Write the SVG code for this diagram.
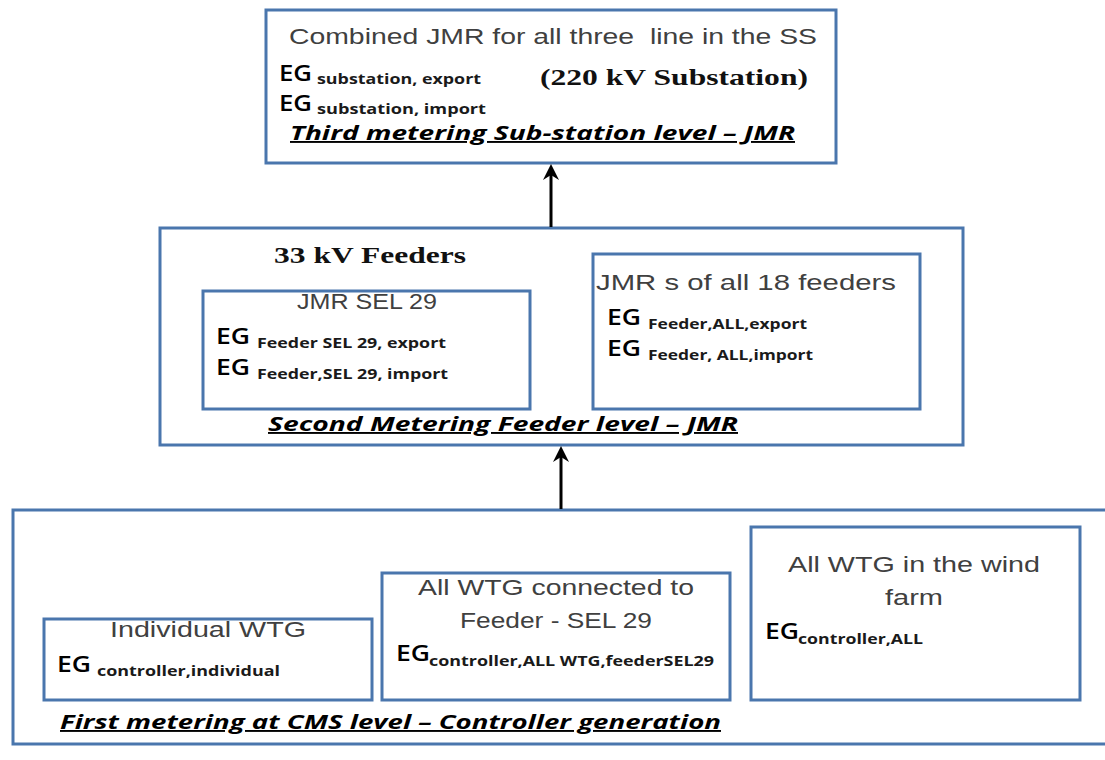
<svg xmlns="http://www.w3.org/2000/svg" width="1105" height="760" viewBox="0 0 1105 760">
  <defs>
    <style>
      .box { fill: #ffffff; stroke: #4a76ad; stroke-width: 3; }
      .link { stroke: #000000; stroke-width: 3; fill: none; }
      .head { fill: #000000; }
      .title { font-family: "Liberation Sans", "Open Sans", sans-serif; font-size: 22px; fill: #404040; white-space: pre; }
      .eg { font-family: "Open Sans", "Liberation Sans", sans-serif; font-size: 21px; font-weight: 600; fill: #000000; }
      .sub { font-family: "Open Sans", "Liberation Sans", sans-serif; font-size: 15px; font-weight: bold; fill: #1a1a1a; }
      .serif { font-family: "Liberation Serif", serif; font-size: 23px; font-weight: bold; fill: #111111; }
      .level { font-family: "Open Sans", "Liberation Sans", sans-serif; font-size: 19px; font-weight: bold; font-style: italic; fill: #000000; text-decoration: underline; }
    </style>
  </defs>
  <rect width="1105" height="760" fill="#ffffff"/>

  <!-- Level 3: substation -->
  <g id="substation">
    <rect class="box" x="266" y="10" width="570" height="153"/>
    <text class="title" x="289" y="44" textLength="528" lengthAdjust="spacingAndGlyphs">Combined JMR for all three  line in the SS</text>
    <text class="eg" x="279" y="81" textLength="33" lengthAdjust="spacingAndGlyphs">EG</text>
    <text class="sub" x="317" y="84" textLength="164" lengthAdjust="spacingAndGlyphs">substation, export</text>
    <text class="serif" x="540" y="85" textLength="268" lengthAdjust="spacingAndGlyphs">(220 kV Substation)</text>
    <text class="eg" x="279" y="111" textLength="33" lengthAdjust="spacingAndGlyphs">EG</text>
    <text class="sub" x="317" y="114" textLength="169" lengthAdjust="spacingAndGlyphs">substation, import</text>
    <text class="level" x="290" y="140" textLength="505" lengthAdjust="spacingAndGlyphs">Third metering Sub-station level – JMR</text>
  </g>

  <!-- Level 2: feeders -->
  <g id="feeders">
    <rect class="box" x="160" y="228" width="803" height="217"/>
    <text class="serif" x="274" y="263" textLength="192" lengthAdjust="spacingAndGlyphs">33 kV Feeders</text>
    <text class="level" x="268" y="431" textLength="470" lengthAdjust="spacingAndGlyphs">Second Metering Feeder level – JMR</text>
  </g>

  <g id="feeder-sel29">
    <rect class="box" x="203" y="291" width="327" height="118"/>
    <text class="title" x="367" y="309" text-anchor="middle" textLength="140" lengthAdjust="spacingAndGlyphs">JMR SEL 29</text>
    <text class="eg" x="216" y="344" textLength="34" lengthAdjust="spacingAndGlyphs">EG</text>
    <text class="sub" x="257" y="348" textLength="189" lengthAdjust="spacingAndGlyphs">Feeder SEL 29, export</text>
    <text class="eg" x="216" y="375" textLength="34" lengthAdjust="spacingAndGlyphs">EG</text>
    <text class="sub" x="257" y="379" textLength="191" lengthAdjust="spacingAndGlyphs">Feeder,SEL 29, import</text>
  </g>

  <g id="feeder-all">
    <rect class="box" x="593" y="254" width="327" height="155"/>
    <text class="title" x="746" y="290" text-anchor="middle" textLength="300" lengthAdjust="spacingAndGlyphs">JMR s of all 18 feeders</text>
    <text class="eg" x="607" y="325" textLength="34" lengthAdjust="spacingAndGlyphs">EG</text>
    <text class="sub" x="648" y="329" textLength="159" lengthAdjust="spacingAndGlyphs">Feeder,ALL,export</text>
    <text class="eg" x="607" y="356" textLength="34" lengthAdjust="spacingAndGlyphs">EG</text>
    <text class="sub" x="648" y="360" textLength="165" lengthAdjust="spacingAndGlyphs">Feeder, ALL,import</text>
  </g>

  <!-- Level 1: controller generation -->
  <g id="cms">
    <rect class="box" x="13" y="510" width="1100" height="234"/>
    <text class="level" x="60" y="729" textLength="661" lengthAdjust="spacingAndGlyphs">First metering at CMS level – Controller generation</text>
  </g>

  <g id="wtg-individual">
    <rect class="box" x="44" y="619" width="328" height="81"/>
    <text class="title" x="208" y="637" text-anchor="middle" textLength="196" lengthAdjust="spacingAndGlyphs">Individual WTG</text>
    <text class="eg" x="57" y="672" textLength="34" lengthAdjust="spacingAndGlyphs">EG</text>
    <text class="sub" x="97" y="676" textLength="183" lengthAdjust="spacingAndGlyphs">controller,individual</text>
  </g>

  <g id="wtg-sel29">
    <rect class="box" x="382" y="573" width="348" height="127"/>
    <text class="title" x="556" y="595" text-anchor="middle" textLength="276" lengthAdjust="spacingAndGlyphs">All WTG connected to</text>
    <text class="title" x="556" y="628" text-anchor="middle" textLength="192" lengthAdjust="spacingAndGlyphs">Feeder - SEL 29</text>
    <text class="eg" x="396" y="661" textLength="34" lengthAdjust="spacingAndGlyphs">EG</text>
    <text class="sub" x="429" y="666" textLength="285" lengthAdjust="spacingAndGlyphs">controller,ALL WTG,feederSEL29</text>
  </g>

  <g id="wtg-all">
    <rect class="box" x="751" y="527" width="329" height="173"/>
    <text class="title" x="914" y="572" text-anchor="middle" textLength="252" lengthAdjust="spacingAndGlyphs">All WTG in the wind</text>
    <text class="title" x="914" y="605" text-anchor="middle" textLength="58" lengthAdjust="spacingAndGlyphs">farm</text>
    <text class="eg" x="765" y="639" textLength="34" lengthAdjust="spacingAndGlyphs">EG</text>
    <text class="sub" x="798" y="644" textLength="125" lengthAdjust="spacingAndGlyphs">controller,ALL</text>
  </g>

  <!-- Upward connectors between metering levels -->
  <g id="connectors">
    <line class="link" x1="551" y1="227" x2="551" y2="170"/>
    <path class="head" d="M551,164 L543,180 L551,175 L559,180 Z"/>
    <line class="link" x1="561" y1="509" x2="561" y2="452"/>
    <path class="head" d="M561,446 L553,462 L561,457 L569,462 Z"/>
  </g>
</svg>
